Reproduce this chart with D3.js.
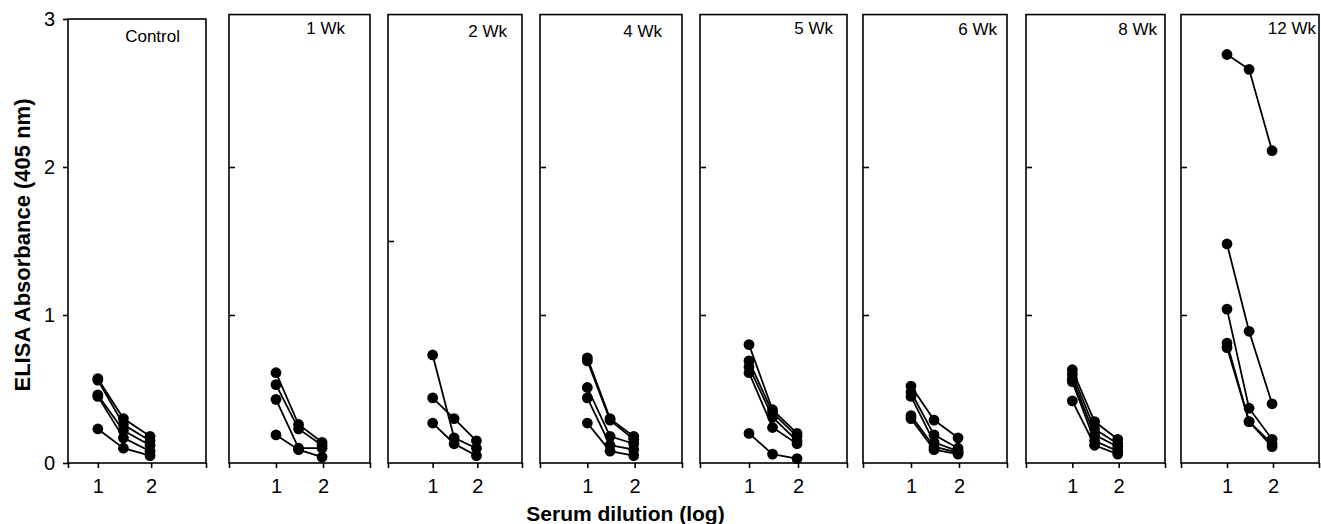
<!DOCTYPE html>
<html>
<head>
<meta charset="utf-8">
<script src="https://cdn.jsdelivr.net/npm/d3@7/dist/d3.min.js"></script>
<style>
  html, body { margin: 0; padding: 0; background: #fff; }
  svg { display: block; font-family: "Liberation Sans", Arial, sans-serif; }
</style>
</head>
<body>
<svg id="chart" width="1321" height="524"></svg>
<script>
// Time points after immunisation, one small-multiple panel each
const panelNames = ["Control", "1 Wk", "2 Wk", "4 Wk", "5 Wk", "6 Wk", "8 Wk", "12 Wk"];

// Serum dilution (log10) at which absorbance was read
const dilutionLog = [1, 1.48, 1.98];

// ELISA absorbance (405 nm) per animal, one array per animal, per panel
const absControl = [[0.57, 0.30, 0.18], [0.56, 0.26, 0.15], [0.46, 0.22, 0.12], [0.45, 0.17, 0.08], [0.23, 0.10, 0.05]];
const abs1Wk     = [[0.61, 0.26, 0.14], [0.53, 0.23, 0.12], [0.43, 0.10, 0.10], [0.19, 0.09, 0.04]];
const abs2Wk     = [[0.73, 0.17, 0.10], [0.44, 0.30, 0.15], [0.27, 0.13, 0.05]];
const abs4Wk     = [[0.71, 0.30, 0.18], [0.69, 0.29, 0.16], [0.51, 0.18, 0.13], [0.44, 0.12, 0.09], [0.27, 0.08, 0.05]];
const abs5Wk     = [[0.80, 0.36, 0.20], [0.69, 0.34, 0.18], [0.65, 0.31, 0.15], [0.61, 0.24, 0.13], [0.20, 0.06, 0.03]];
const abs6Wk     = [[0.52, 0.29, 0.17], [0.48, 0.19, 0.10], [0.45, 0.14, 0.08], [0.32, 0.11, 0.07], [0.30, 0.09, 0.06]];
const abs8Wk     = [[0.63, 0.28, 0.16], [0.60, 0.23, 0.13], [0.57, 0.19, 0.11], [0.55, 0.15, 0.08], [0.42, 0.12, 0.06]];
const abs12Wk    = [[2.76, 2.66, 2.11], [1.48, 0.89, 0.40], [1.04, 0.37, 0.16], [0.81, 0.28, 0.13], [0.78, 0.28, 0.11]];

const panelSeries = [absControl, abs1Wk, abs2Wk, abs4Wk, abs5Wk, abs6Wk, abs8Wk, abs12Wk];

// Axis tick labels
const yTickLabels = [0, 1, 2, 3];
const xTickLabels = [1, 2];

// Panel geometry: pixel extent, x domain, frame top (data units), inner y ticks, label placement
const layout = [
  { left: 68,   right: 206,  xDom: [0.44, 3.03], top: 3.0,  yTicks: null,  labRight: 26,  labY: 42 },
  { left: 229,  right: 370,  xDom: [0, 3],       top: 3.03, yTicks: [1, 2], labRight: 25,  labY: 33.5 },
  { left: 388,  right: 522,  xDom: [0, 3],       top: 3.03, yTicks: [1.5],  labRight: 15,  labY: 36.5 },
  { left: 540,  right: 682,  xDom: [0, 3],       top: 3.03, yTicks: [1, 2], labRight: 20,  labY: 36.5 },
  { left: 700,  right: 847,  xDom: [0, 3],       top: 3.03, yTicks: [1, 2], labRight: 14,  labY: 33.5 },
  { left: 863,  right: 1007, xDom: [0, 3],       top: 3.03, yTicks: [1, 2], labRight: 10,  labY: 35 },
  { left: 1026, right: 1165, xDom: [0, 3],       top: 3.03, yTicks: [1, 2], labRight: 8,   labY: 35 },
  { left: 1181, right: 1319, xDom: [0, 3],       top: 3.03, yTicks: [1, 2], labRight: 3,   labY: 33.5 }
];

const svg = d3.select("#chart");
const y = d3.scaleLinear().domain([0, 3]).range([463, 19]);
const intFmt = d3.format("d");

panelNames.forEach((name, i) => {
  const L = layout[i];
  const x = d3.scaleLinear().domain(L.xDom).range([L.left, L.right]);
  const g = svg.append("g").attr("class", "panel");

  // x axis: outward ticks at 1 and 2 plus the frame ends
  const xa = g.append("g")
    .attr("transform", `translate(0,${y(0)})`)
    .call(d3.axisBottom(x)
      .tickValues([L.xDom[0], ...xTickLabels, L.xDom[1]])
      .tickSize(5).tickSizeOuter(0).tickPadding(11)
      .tickFormat(d => xTickLabels.includes(d) ? intFmt(d) : ""));
  xa.select(".domain").remove();
  xa.selectAll("line").attr("stroke", "#000").attr("stroke-width", 1.6);
  xa.selectAll("text").attr("font-size", 20).attr("fill", "#000")
    .attr("font-family", "'Liberation Sans', Arial, sans-serif");

  if (i === 0) {
    // labelled y axis on the first panel, ticks pointing outward
    const ya = g.append("g")
      .attr("transform", `translate(${L.left},0)`)
      .call(d3.axisLeft(y).tickValues(yTickLabels).tickFormat(intFmt)
        .tickSize(5).tickSizeOuter(0).tickPadding(8));
    ya.select(".domain").remove();
    ya.selectAll("line").attr("stroke", "#000").attr("stroke-width", 1.6);
    ya.selectAll("text").attr("font-size", 20).attr("fill", "#000")
      .attr("font-family", "'Liberation Sans', Arial, sans-serif");
  } else {
    // unlabelled inward ticks on the remaining panels
    const ya = g.append("g")
      .attr("transform", `translate(${L.left},0)`)
      .call(d3.axisRight(y).tickValues(L.yTicks).tickSize(6).tickSizeOuter(0).tickFormat(""));
    ya.select(".domain").remove();
    ya.selectAll("line").attr("stroke", "#000").attr("stroke-width", 1.6);
  }

  // panel frame
  g.append("rect")
    .attr("x", L.left).attr("y", y(L.top))
    .attr("width", L.right - L.left).attr("height", y(0) - y(L.top))
    .attr("fill", "none").attr("stroke", "#000").attr("stroke-width", 1.6);

  // panel label
  g.append("text")
    .attr("x", L.right - L.labRight).attr("y", L.labY)
    .attr("text-anchor", "end").attr("font-size", 17).attr("fill", "#000")
    .text(name);

  const line = d3.line().x((d, k) => x(dilutionLog[k])).y(d => y(d));
  const series = panelSeries[i];

  g.selectAll("path.series").data(series).join("path")
    .attr("class", "series")
    .attr("d", line)
    .attr("fill", "none").attr("stroke", "#000").attr("stroke-width", 1.8);

  g.selectAll("g.dots").data(series).join("g").attr("class", "dots")
    .selectAll("circle").data(d => d).join("circle")
    .attr("cx", (d, k) => x(dilutionLog[k]))
    .attr("cy", d => y(d))
    .attr("r", 5.4)
    .attr("fill", "#000");
});

// axis titles
svg.append("text")
  .attr("transform", `translate(30,245) rotate(-90)`)
  .attr("text-anchor", "middle").attr("font-size", 22).attr("font-weight", "bold")
  .attr("fill", "#000")
  .text("ELISA Absorbance (405 nm)");

svg.append("text")
  .attr("x", 625.5).attr("y", 521)
  .attr("text-anchor", "middle").attr("font-size", 21).attr("font-weight", "bold")
  .attr("fill", "#000")
  .text("Serum dilution (log)");
</script>
</body>
</html>
